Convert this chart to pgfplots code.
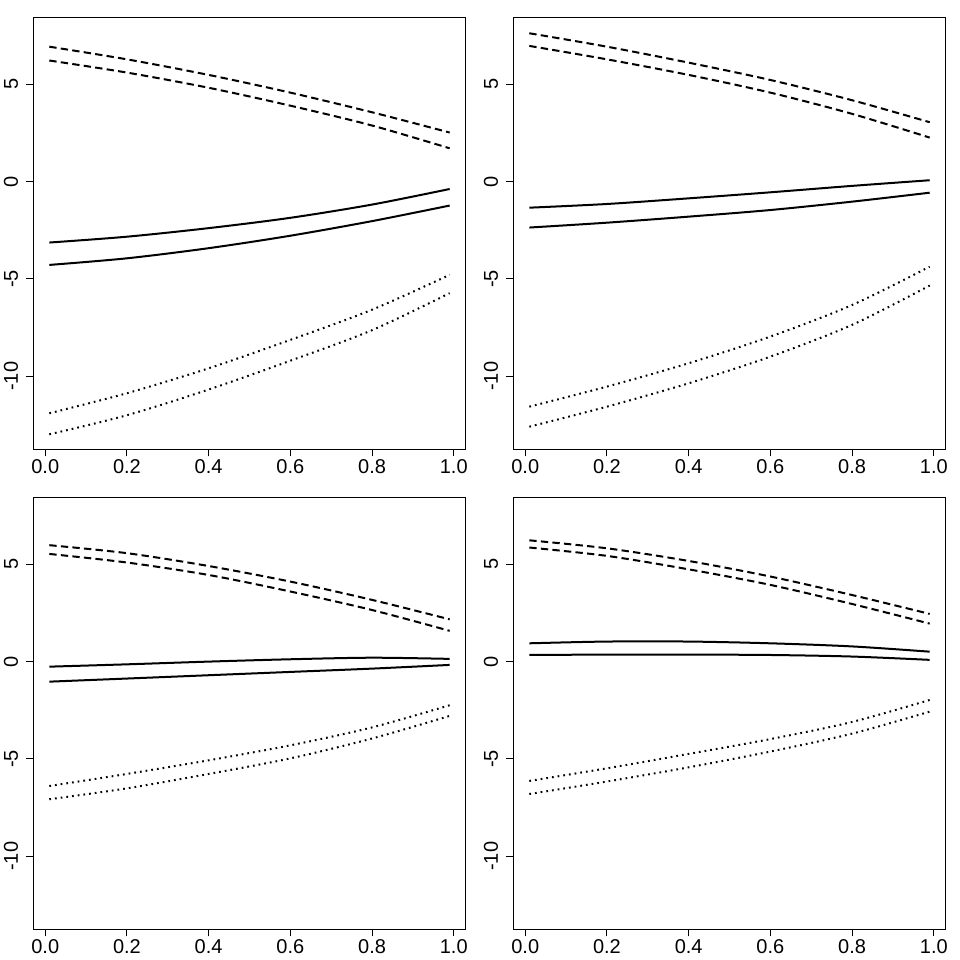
\documentclass[border=0pt]{standalone}
\usepackage{pgfplots}
\pgfplotsset{compat=1.18}
\usepackage{fontspec}
\setmainfont{Liberation Sans}
\pgfplotsset{
  rpanel/.style={
    width=324.3bp, height=324bp, scale only axis,
    xmin=-0.0292, xmax=1.0292, ymin=-13.75, ymax=8.44,
    xtick={0,0.2,0.4,0.6,0.8,1}, xticklabels={0.0,0.2,0.4,0.6,0.8,1.0},
    ytick={-10,-5,0,5}, yticklabels={-10,-5,0,5},
    xtick pos=left, ytick pos=left,
    tick align=outside, major tick length=5.25bp,
    axis line style={line width=0.75bp, black},
    tick style={line width=0.75bp, black},
    ticklabel style={font=\fontsize{15bp}{18bp}\selectfont},
    xticklabel style={anchor=north, inner sep=0pt},
    yticklabel style={rotate=90, anchor=south, inner sep=0pt},
    xticklabel shift=2.6bp, yticklabel shift=6bp,
    every axis plot/.append style={black, smooth, line width=1.5bp},
  },
  dsh/.style={dash pattern=on 5.5bp off 3.2bp},
  dtt/.style={dash pattern=on 1.3bp off 3bp},
}
\begin{document}
\begin{tikzpicture}
\useasboundingbox (0bp,0bp) rectangle (720bp,720bp);
% top left
\begin{axis}[rpanel, at={(24.975bp,383.025bp)}, anchor=south west]
\addplot[dsh] coordinates {(0.01,6.93)(0.2,6.28)(0.4,5.48)(0.6,4.57)(0.8,3.56)(0.99,2.52)};
\addplot[dsh] coordinates {(0.01,6.22)(0.2,5.60)(0.4,4.82)(0.6,3.90)(0.8,2.88)(0.99,1.71)};
\addplot[solid] coordinates {(0.01,-3.13)(0.2,-2.83)(0.4,-2.39)(0.6,-1.86)(0.8,-1.18)(0.99,-0.38)};
\addplot[solid] coordinates {(0.01,-4.28)(0.2,-3.94)(0.4,-3.42)(0.6,-2.78)(0.8,-2.03)(0.99,-1.23)};
\addplot[dtt] coordinates {(0.01,-11.90)(0.2,-10.87)(0.4,-9.59)(0.6,-8.13)(0.8,-6.58)(0.99,-4.79)};
\addplot[dtt] coordinates {(0.01,-12.98)(0.2,-12.00)(0.4,-10.68)(0.6,-9.20)(0.8,-7.63)(0.99,-5.73)};
\end{axis}
% top right
\begin{axis}[rpanel, at={(384.975bp,383.025bp)}, anchor=south west]
\addplot[dsh] coordinates {(0.01,7.62)(0.2,6.93)(0.4,6.11)(0.6,5.22)(0.8,4.18)(0.99,3.05)};
\addplot[dsh] coordinates {(0.01,6.97)(0.2,6.28)(0.4,5.48)(0.6,4.57)(0.8,3.48)(0.99,2.26)};
\addplot[solid] coordinates {(0.01,-1.34)(0.2,-1.15)(0.4,-0.86)(0.6,-0.55)(0.8,-0.22)(0.99,0.07)};
\addplot[solid] coordinates {(0.01,-2.36)(0.2,-2.11)(0.4,-1.80)(0.6,-1.46)(0.8,-1.03)(0.99,-0.57)};
\addplot[dtt] coordinates {(0.01,-11.56)(0.2,-10.53)(0.4,-9.33)(0.6,-7.96)(0.8,-6.34)(0.99,-4.37)};
\addplot[dtt] coordinates {(0.01,-12.59)(0.2,-11.56)(0.4,-10.36)(0.6,-8.99)(0.8,-7.36)(0.99,-5.34)};
\end{axis}
% bottom left
\begin{axis}[rpanel, at={(24.975bp,23.025bp)}, anchor=south west]
\addplot[dsh] coordinates {(0.01,5.98)(0.2,5.57)(0.4,4.91)(0.6,4.11)(0.8,3.17)(0.99,2.17)};
\addplot[dsh] coordinates {(0.01,5.53)(0.2,5.09)(0.4,4.45)(0.6,3.60)(0.8,2.65)(0.99,1.58)};
\addplot[solid] coordinates {(0.01,-0.26)(0.2,-0.14)(0.4,0.00)(0.6,0.12)(0.8,0.20)(0.99,0.14)};
\addplot[solid] coordinates {(0.01,-1.03)(0.2,-0.87)(0.4,-0.70)(0.6,-0.53)(0.8,-0.36)(0.99,-0.17)};
\addplot[dtt] coordinates {(0.01,-6.39)(0.2,-5.77)(0.4,-5.07)(0.6,-4.30)(0.8,-3.38)(0.99,-2.24)};
\addplot[dtt] coordinates {(0.01,-7.07)(0.2,-6.51)(0.4,-5.77)(0.6,-4.97)(0.8,-3.95)(0.99,-2.79)};
\end{axis}
% bottom right
\begin{axis}[rpanel, at={(384.975bp,23.025bp)}, anchor=south west]
\addplot[dsh] coordinates {(0.01,6.23)(0.2,5.82)(0.4,5.17)(0.6,4.37)(0.8,3.42)(0.99,2.45)};
\addplot[dsh] coordinates {(0.01,5.86)(0.2,5.43)(0.4,4.74)(0.6,3.94)(0.8,2.96)(0.99,1.95)};
\addplot[solid] coordinates {(0.01,0.94)(0.2,1.03)(0.4,1.03)(0.6,0.94)(0.8,0.78)(0.99,0.51)};
\addplot[solid] coordinates {(0.01,0.34)(0.2,0.36)(0.4,0.36)(0.6,0.34)(0.8,0.26)(0.99,0.09)};
\addplot[dtt] coordinates {(0.01,-6.13)(0.2,-5.48)(0.4,-4.74)(0.6,-3.98)(0.8,-3.10)(0.99,-1.97)};
\addplot[dtt] coordinates {(0.01,-6.80)(0.2,-6.16)(0.4,-5.43)(0.6,-4.62)(0.8,-3.70)(0.99,-2.57)};
\end{axis}
\end{tikzpicture}
\end{document}
